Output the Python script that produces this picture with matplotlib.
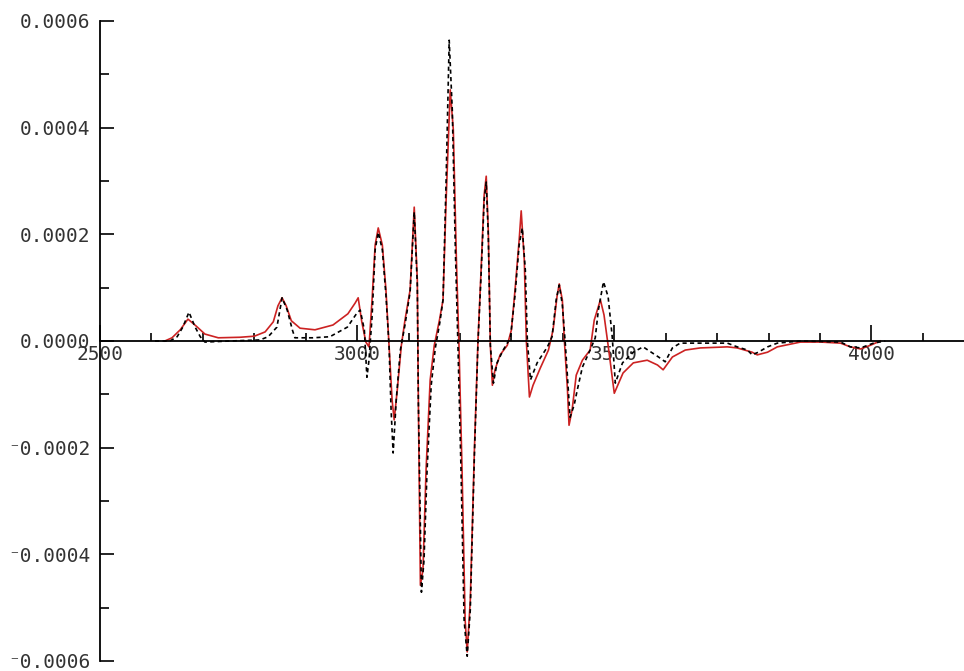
import numpy as np
import matplotlib as mpl
mpl.use('Agg')
import matplotlib.pyplot as plt
from matplotlib.ticker import MultipleLocator

# field (G) and signal (x 1e-4)
sim_x = [2626, 2640, 2656, 2671, 2687, 2704, 2730, 2772, 2800, 2821, 2837, 2846,
         2854, 2862, 2872, 2889, 2918, 2953, 2982, 2996, 3002, 3009, 3017, 3023,
         3029, 3035, 3041, 3049, 3056, 3062, 3068, 3072, 3078, 3086, 3093, 3103,
         3111, 3117, 3119, 3123, 3128, 3134, 3142, 3150, 3160, 3167, 3173, 3181,
         3187, 3193, 3198, 3204, 3210, 3214, 3220, 3228, 3235, 3241, 3247, 3251,
         3255, 3259, 3263, 3268, 3278, 3292, 3300, 3307, 3315, 3319, 3325, 3329,
         3335, 3342, 3356, 3372, 3381, 3389, 3393, 3399, 3403, 3409, 3412, 3418,
         3426, 3438, 3453, 3461, 3473, 3480, 3488, 3500, 3517, 3537, 3564, 3584,
         3595, 3613, 3638, 3667, 3720, 3739, 3768, 3778, 3798, 3817, 3862, 3901,
         3940, 3959, 3979, 3998, 4017]
sim_y = [0.0, 0.06, 0.21, 0.41, 0.28, 0.13, 0.06, 0.07, 0.09, 0.17, 0.36, 0.66,
         0.81, 0.66, 0.38, 0.24, 0.21, 0.30, 0.51, 0.71, 0.81, 0.36, -0.02, -0.11,
         0.77, 1.80, 2.12, 1.80, 0.96, -0.08, -1.11, -1.48, -0.92, -0.08, 0.39, 0.96,
         2.51, 1.14, -1.11, -4.58, -4.29, -2.42, -0.73, -0.08, 0.39, 0.77, 2.64, 4.71,
         3.96, 1.52, -0.08, -2.42, -5.23, -5.83, -4.86, -2.04, 0.02, 1.33, 2.74, 3.09,
         2.08, -0.08, -0.83, -0.54, -0.26, -0.08, 0.21, 0.96, 1.89, 2.44, 1.52, 0.0,
         -1.05, -0.83, -0.51, -0.17, 0.21, 0.86, 1.07, 0.77, 0.0, -0.92, -1.58, -1.29,
         -0.64, -0.36, -0.17, 0.39, 0.77, 0.49, -0.08, -0.98, -0.60, -0.41, -0.36, -0.45,
         -0.54, -0.30, -0.17, -0.13, -0.11, -0.13, -0.21, -0.26, -0.21, -0.11, -0.02, -0.02,
         -0.04, -0.11, -0.15, -0.08, 0.0]

exp_x = [2607, 2636, 2650, 2661, 2673, 2685, 2695, 2704, 2753, 2811, 2827, 2844,
         2854, 2864, 2874, 2879, 2914, 2947, 2981, 3000, 3006, 3014, 3019, 3023,
         3029, 3035, 3041, 3049, 3056, 3062, 3066, 3070, 3076, 3084, 3093, 3103,
         3111, 3117, 3119, 3125, 3130, 3136, 3144, 3152, 3161, 3167, 3173, 3179,
         3185, 3191, 3196, 3202, 3208, 3214, 3220, 3228, 3235, 3241, 3247, 3251,
         3255, 3259, 3265, 3272, 3284, 3298, 3307, 3315, 3321, 3327, 3331, 3337,
         3350, 3370, 3379, 3387, 3393, 3399, 3405, 3414, 3422, 3428, 3438, 3453,
         3463, 3469, 3479, 3488, 3496, 3502, 3516, 3537, 3556, 3586, 3599, 3613,
         3628, 3667, 3720, 3739, 3759, 3768, 3780, 3798, 3817, 3862, 3940, 3959,
         3979, 4004, 4027]
exp_y = [0.0, 0.0, 0.08, 0.26, 0.54, 0.26, 0.08, -0.02, 0.0, 0.02, 0.08, 0.26,
         0.81, 0.58, 0.21, 0.06, 0.06, 0.08, 0.26, 0.53, 0.58, 0.21, -0.68, -0.36,
         0.45, 1.71, 2.04, 1.71, 0.86, -0.08, -1.29, -2.10, -1.11, -0.17, 0.30, 0.92,
         2.42, 1.05, -1.11, -4.71, -4.11, -2.42, -0.83, -0.13, 0.36, 0.77, 3.02, 5.64,
         4.33, 1.71, -0.08, -2.42, -5.23, -5.91, -5.04, -2.14, -0.02, 1.24, 2.64, 2.98,
         1.99, -0.08, -0.79, -0.41, -0.17, 0.06, 0.86, 1.80, 2.12, 1.33, 0.0, -0.73,
         -0.41, -0.11, 0.08, 0.77, 1.05, 0.68, -0.08, -1.43, -1.20, -0.92, -0.49, -0.17,
         0.06, 0.58, 1.11, 0.83, 0.08, -0.79, -0.41, -0.21, -0.11, -0.30, -0.39, -0.13,
         -0.04, -0.04, -0.04, -0.11, -0.17, -0.26, -0.21, -0.11, -0.04, 0.0, -0.02, -0.11,
         -0.13, -0.04, 0.0]

x_ticks = [2500, 3000, 3500, 4000]
y_ticks = [-0.0006, -0.0004, -0.0002, 0.0, 0.0002, 0.0004, 0.0006]
y_labels = ['\u207b0.0006', '\u207b0.0004', '\u207b0.0002', '0.0000',
            '0.0002', '0.0004', '0.0006']


def main():
  plt.rcParams['font.family'] = ['DejaVu Sans Mono', 'DejaVu Sans']
  fig = plt.figure(figsize=(9.64, 6.71), dpi=100)
  ax = fig.add_axes([100 / 964, 10 / 671, 864 / 964, 640 / 671])

  ax.plot(sim_x, np.array(sim_y) * 1e-4, color='#cc2222', lw=1.2)
  ax.plot(exp_x, np.array(exp_y) * 1e-4, color='black', lw=1.2,
          dashes=(2.5, 2))

  ax.set_xlim(2500, 4180)
  ax.set_ylim(-0.0006, 0.0006)

  for s in ['top', 'right']:
    ax.spines[s].set_visible(False)
  ax.spines['bottom'].set_position(('data', 0))
  ax.spines['left'].set_linewidth(1.3)
  ax.spines['bottom'].set_linewidth(1.3)

  ax.set_xticks(x_ticks)
  ax.set_xticklabels([str(t) for t in x_ticks])
  ax.xaxis.set_minor_locator(MultipleLocator(100))
  ax.set_yticks(y_ticks)
  ax.set_yticklabels(y_labels)
  ax.yaxis.set_minor_locator(MultipleLocator(0.0001))

  ax.tick_params(axis='x', which='major', direction='in', length=11.5,
                 width=1.2, pad=3, labelsize=14, labelcolor='#333333')
  ax.tick_params(axis='x', which='minor', direction='in', length=6,
                 width=1.2)
  ax.tick_params(axis='y', which='major', direction='in', length=10,
                 width=1.2, pad=7, labelsize=14, labelcolor='#333333')
  ax.tick_params(axis='y', which='minor', direction='in', length=6.5,
                 width=1.2)

  plt.savefig('out.png', dpi=100)


if __name__ == '__main__':
  main()
